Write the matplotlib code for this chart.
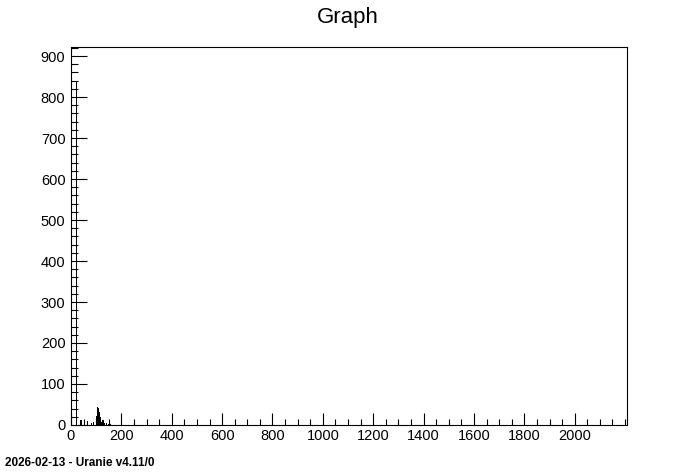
import numpy as np
import matplotlib
matplotlib.use("Agg")
from matplotlib import pyplot as plt
from matplotlib.ticker import MultipleLocator

# bar positions and heights
x_vals = [22, 40, 67, 82, 88, 100, 105, 109, 112, 116, 122, 127, 133, 141, 148, 155]
y_vals = [838, 12, 10, 5, 7, 22, 44, 42, 32, 20, 7, 12, 4, 6, 3, 2]

x_max = 2208
y_max = 922
x_labels = np.arange(0, 2001, 200)

plt.rcParams['font.family'] = ['Liberation Sans', 'DejaVu Sans']

fig = plt.figure(figsize=(6.96, 4.72), dpi=100)
ax = fig.add_axes([0.102, 0.0996, 0.799, 0.8008])

ax.bar(x_vals, y_vals, width=5, color="black", align="center", linewidth=0)

ax.set_xlim(0, x_max)
ax.set_ylim(0, y_max)

ax.set_xticks(x_labels)
ax.xaxis.set_minor_locator(MultipleLocator(50))
ax.yaxis.set_major_locator(MultipleLocator(100))
ax.yaxis.set_minor_locator(MultipleLocator(20))

ax.tick_params(axis="x", which="major", direction="in", length=8.6, width=0.8,
               labelsize=10.5, pad=3, top=False)
ax.tick_params(axis="x", which="minor", direction="in", length=4.3, width=0.8, top=False)
ax.tick_params(axis="y", which="major", direction="in", length=11.5, width=0.8,
               labelsize=10.5, pad=4, right=False)
ax.tick_params(axis="y", which="minor", direction="in", length=5, width=0.8, right=False)

for s in ax.spines.values():
    s.set_linewidth(0.8)
    s.set_color("black")

fig.text(0.5, 0.962, "Graph", ha="center", va="center", fontsize=16)
fig.text(0.007, 0.019, "2026-02-13 - Uranie v4.11/0", ha="left", va="center",
         fontsize=8.5, fontweight="bold")

fig.savefig("out.png", dpi=100)
